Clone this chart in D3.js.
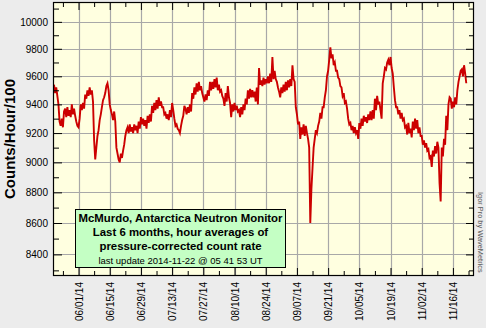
<!DOCTYPE html>
<html>
<head>
<meta charset="utf-8">
<script src="https://cdn.jsdelivr.net/npm/d3@7"></script>
<style>
  body { margin: 0; background: #ececec; }
  svg { display: block; }
</style>
</head>
<body>
<script>
// hour-average series, every 12 h starting 2014-05-21 00:00 UT
const seriesStart = "2014-05-21T00:00:00Z";
const stepHours = 12;
const counts = [
  9540, 9480, 9520, 9460, 9400, 9280, 9250, 9300, 9240, 9350, 9370, 9310, 9380, 9320,
  9360, 9310, 9400, 9330, 9370, 9320, 9280, 9250, 9240, 9300, 9400, 9360, 9410, 9370,
  9470, 9440, 9500, 9460, 9520, 9470, 9500, 9420, 9150, 9020, 9100, 9180, 9220, 9290,
  9330, 9380, 9430, 9450, 9480, 9530, 9550, 9500, 9400, 9360, 9330, 9290, 9350, 9280,
  9100, 9060, 9020, 9000, 9060, 9030, 9080, 9120, 9180, 9220, 9240, 9200, 9260, 9210,
  9240, 9200, 9260, 9220, 9250, 9200, 9280, 9230, 9310, 9260, 9300, 9250, 9290, 9230,
  9320, 9270, 9330, 9280, 9390, 9340, 9410, 9360, 9430, 9370, 9450, 9390, 9420, 9380,
  9380, 9330, 9340, 9300, 9330, 9290, 9360, 9310, 9410, 9360, 9300, 9250, 9260, 9230,
  9220, 9200, 9250, 9290, 9320, 9390, 9370, 9330, 9380, 9340, 9400, 9350, 9480, 9440,
  9520, 9470, 9550, 9490, 9560, 9500, 9530, 9480, 9450, 9420, 9470, 9430, 9500, 9460,
  9560, 9500, 9560, 9510, 9580, 9520, 9590, 9500, 9540, 9490, 9500, 9460, 9440, 9390,
  9480, 9420, 9530, 9450, 9410, 9310, 9400, 9350, 9410, 9360, 9390, 9350, 9360, 9310,
  9380, 9330, 9400, 9360, 9440, 9400, 9500, 9440, 9510, 9450, 9500, 9450, 9490, 9420,
  9520, 9400, 9660, 9540, 9570, 9530, 9590, 9540, 9580, 9550, 9600, 9550, 9620, 9560,
  9740, 9580, 9640, 9580, 9560, 9520, 9490, 9450, 9520, 9480, 9540, 9490, 9560, 9500,
  9570, 9520, 9580, 9530, 9680, 9580, 9560, 9380, 9330, 9260, 9280, 9160, 9240, 9190,
  9260, 9180, 9250, 9200, 9160, 9100, 8600, 8820, 8960, 9100, 9160, 9220, 9200, 9250,
  9280, 9340, 9300, 9380, 9380, 9450, 9500, 9600, 9640, 9720, 9810, 9730, 9760, 9680,
  9700, 9640, 9640, 9590, 9580, 9530, 9520, 9460, 9480, 9410, 9420, 9370, 9300, 9260,
  9270, 9220, 9250, 9200, 9240, 9200, 9220, 9160, 9270, 9230, 9300, 9250, 9320, 9280,
  9310, 9270, 9330, 9290, 9350, 9290, 9360, 9300, 9440, 9360, 9460, 9400, 9420, 9360,
  9300, 9550, 9600, 9660, 9650, 9700, 9720, 9680, 9740, 9660, 9620, 9520, 9430, 9380,
  9380, 9330, 9360, 9300, 9340, 9290, 9300, 9240, 9250, 9190, 9270, 9200, 9230, 9170,
  9280, 9220, 9300, 9230, 9290, 9200, 9240, 9180, 9180, 9120, 9150, 9100, 9130, 9080,
  9090, 9030, 9040, 8970, 9080, 9040, 9110, 9060, 9140, 9100, 8860, 8740, 9100, 9040,
  9160, 9120, 9320, 9220, 9400, 9450, 9440, 9370, 9420, 9380, 9450, 9400, 9500, 9560,
  9600, 9640, 9650, 9600, 9680, 9620, 9550
];

const xTickDates = ["2014-06-01", "2014-06-15", "2014-06-29", "2014-07-13", "2014-07-27",
  "2014-08-10", "2014-08-24", "2014-09-07", "2014-09-21", "2014-10-05", "2014-10-19",
  "2014-11-02", "2014-11-16"];
const yTicks = [8400, 8600, 8800, 9000, 9200, 9400, 9600, 9800, 10000];
const yMinorTicks = [8300, 8500, 8700, 8900, 9100, 9300, 9500, 9700, 9900, 10100];
const xDomain = ["2014-05-21T00:00:00Z", "2014-11-25T11:00:00Z"];
const yDomain = [8265, 10150];

const titleLines = ["McMurdo, Antarctica Neutron Monitor", "Last 6 months, hour averages of",
  "pressure-corrected count rate"];
const updateLine = "last update 2014-11-22 @ 05 41 53 UT";

const width = 486, height = 328;
const pLeft = 54, pRight = 474, pTop = 2, pBottom = 276;
const font = "'Liberation Sans', Arial, sans-serif";

const svg = d3.select("body").append("svg")
  .attr("width", width)
  .attr("height", height)
  .attr("font-family", font);

svg.append("rect").attr("width", width).attr("height", height).attr("fill", "#ececec");

const x = d3.scaleUtc().domain(xDomain.map(d => new Date(d))).range([pLeft, pRight]);
const y = d3.scaleLog().domain(yDomain).range([pBottom, pTop]);

const t0 = new Date(seriesStart).getTime();
const data = counts.map((v, i) => ({ date: new Date(t0 + i * stepHours * 3600e3), value: v }));

const majorDates = xTickDates.map(d => new Date(d + "T00:00:00Z"));
const minorDates = majorDates.map(d => d3.utcDay.offset(d, -7)).concat([d3.utcDay.offset(majorDates[majorDates.length - 1], 7)]);

// plot background
svg.append("rect")
  .attr("x", pLeft).attr("y", pTop)
  .attr("width", pRight - pLeft).attr("height", pBottom - pTop)
  .attr("fill", "#ffffe0");

// grid
const grid = svg.append("g").attr("stroke", "#a8a8a8").attr("stroke-width", 1.2);
grid.selectAll(".gx").data(majorDates).enter().append("line")
  .attr("x1", d => Math.round(x(d)) + 0.5).attr("x2", d => Math.round(x(d)) + 0.5)
  .attr("y1", pTop).attr("y2", pBottom);
grid.selectAll(".gy").data(yTicks).enter().append("line")
  .attr("y1", d => Math.round(y(d)) + 0.5).attr("y2", d => Math.round(y(d)) + 0.5)
  .attr("x1", pLeft).attr("x2", pRight);

// data line
svg.append("clipPath").attr("id", "plotclip")
  .append("rect").attr("x", pLeft).attr("y", pTop).attr("width", pRight - pLeft).attr("height", pBottom - pTop);

const line = d3.line()
  .x(d => x(d.date))
  .y(d => y(d.value));

svg.append("path")
  .datum(data)
  .attr("clip-path", "url(#plotclip)")
  .attr("fill", "none")
  .attr("stroke", "#cc0000")
  .attr("stroke-width", 1.9)
  .attr("stroke-linejoin", "miter")
  .attr("d", line);

// axes, ticks pointing inward
function styleAxis(g) {
  g.selectAll("path").remove();
  g.selectAll("line").attr("stroke", "#000");
}

const yAxis = svg.append("g").attr("transform", `translate(${pLeft},0)`)
  .call(d3.axisLeft(y).tickValues(yTicks).tickFormat(d3.format("d")).tickSize(-8).tickPadding(6))
  .call(styleAxis);
yAxis.selectAll("text").attr("font-size", 10).attr("font-family", font).attr("fill", "#000");

svg.append("g").attr("transform", `translate(${pLeft},0)`)
  .call(d3.axisLeft(y).tickValues(yMinorTicks).tickFormat("").tickSize(-5))
  .call(styleAxis);
svg.append("g").attr("transform", `translate(${pRight},0)`)
  .call(d3.axisRight(y).tickValues(yTicks).tickFormat("").tickSize(-8))
  .call(styleAxis);
svg.append("g").attr("transform", `translate(${pRight},0)`)
  .call(d3.axisRight(y).tickValues(yMinorTicks).tickFormat("").tickSize(-5))
  .call(styleAxis);

const fmt = d3.utcFormat("%m/%d/%y");
const xAxis = svg.append("g").attr("transform", `translate(0,${pBottom})`)
  .call(d3.axisBottom(x).tickValues(majorDates).tickFormat(fmt).tickSize(-8))
  .call(styleAxis);
xAxis.selectAll("text")
  .attr("transform", "rotate(-90)")
  .attr("x", -6).attr("y", 0).attr("dy", "0.35em")
  .attr("text-anchor", "end")
  .attr("font-size", 10).attr("font-family", font).attr("fill", "#000");

svg.append("g").attr("transform", `translate(0,${pBottom})`)
  .call(d3.axisBottom(x).tickValues(minorDates).tickFormat("").tickSize(-5))
  .call(styleAxis);
svg.append("g").attr("transform", `translate(0,${pTop})`)
  .call(d3.axisTop(x).tickValues(majorDates).tickFormat("").tickSize(-8))
  .call(styleAxis);
svg.append("g").attr("transform", `translate(0,${pTop})`)
  .call(d3.axisTop(x).tickValues(minorDates).tickFormat("").tickSize(-5))
  .call(styleAxis);

// frame
svg.append("rect")
  .attr("x", pLeft - 0.5).attr("y", pTop + 0.5)
  .attr("width", pRight - pLeft).attr("height", pBottom - pTop - 1)
  .attr("fill", "none").attr("stroke", "#000").attr("stroke-width", 1.2);

// y title
svg.append("text")
  .attr("transform", `translate(15,${(pTop + pBottom) / 2}) rotate(-90)`)
  .attr("text-anchor", "middle")
  .attr("font-size", 15).attr("font-weight", "bold")
  .text("Counts/Hour/100");

// legend box
const box = svg.append("g");
box.append("rect")
  .attr("x", 75.5).attr("y", 209.5).attr("width", 210).attr("height", 58)
  .attr("fill", "#c4ffc4").attr("stroke", "#000");
box.selectAll(".tl").data(titleLines).enter().append("text")
  .attr("x", 180.5).attr("y", (d, i) => 222 + i * 14)
  .attr("text-anchor", "middle")
  .attr("font-size", 11.4).attr("font-weight", "bold")
  .text(d => d);
box.append("text")
  .attr("x", 180.5).attr("y", 263.5)
  .attr("text-anchor", "middle")
  .attr("font-size", 9.5)
  .text(updateLine);

// credit
svg.append("text")
  .attr("transform", "translate(478,192) rotate(90)")
  .attr("font-size", 7.4).attr("fill", "#555")
  .text("Igor Pro by WaveMetrics");
</script>
</body>
</html>
